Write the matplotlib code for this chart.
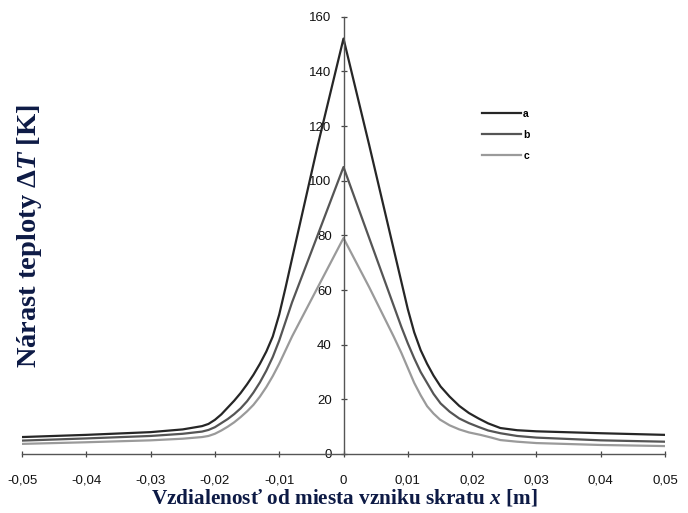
"""
Nárast teploty v okolí miesta vzniku skratu (krivky a, b, c).
"""

import matplotlib
matplotlib.use("Agg")
import matplotlib.pyplot as plt

# ---------------------------------------------------------------------------
# Data (odčítané z grafu)
# ---------------------------------------------------------------------------

x_a = [-0.05, -0.04, -0.03, -0.025, -0.022, -0.021, -0.020, -0.019, -0.018,
       -0.017, -0.016, -0.015, -0.014, -0.013, -0.012, -0.011, -0.010,
       -0.009, -0.008, -0.004, 0.0,
       0.004, 0.008, 0.009, 0.010, 0.011, 0.012, 0.013, 0.014, 0.0151,
       0.0165, 0.018, 0.0195, 0.021, 0.0225, 0.0244, 0.027, 0.03, 0.04, 0.05]
dt_a = [6.2, 7.0, 8.0, 9.0, 10.2, 11.0, 12.5, 14.5, 17.0,
        19.5, 22.3, 25.5, 29.0, 33.0, 37.5, 43.0, 51.0,
        61.0, 71.5, 113.0, 152.0,
        113.0, 73.0, 63.0, 53.0, 44.5, 38.0, 33.0, 28.7, 24.7,
        21.0, 17.6, 15.0, 13.0, 11.2, 9.5, 8.7, 8.3, 7.6, 7.0]

x_b = [-0.05, -0.04, -0.03, -0.025, -0.022, -0.021, -0.020, -0.019, -0.018,
       -0.017, -0.016, -0.015, -0.014, -0.013, -0.012, -0.011, -0.010,
       -0.009, -0.008, -0.005, 0.0,
       0.005, 0.007, 0.008, 0.009, 0.010, 0.011, 0.012, 0.013, 0.014,
       0.0151, 0.0165, 0.018, 0.0195, 0.021, 0.0225, 0.0244, 0.027, 0.03,
       0.04, 0.05]
dt_b = [4.9, 5.7, 6.6, 7.4, 8.2, 8.8, 9.8, 11.3, 12.8,
        14.6, 16.7, 19.3, 22.5, 26.2, 30.5, 35.5, 41.5,
        48.5, 55.5, 74.0, 105.0,
        72.5, 59.5, 53.0, 46.5, 40.5, 35.0, 30.0, 26.0, 22.0,
        18.5, 15.5, 13.0, 11.3, 9.9, 8.6, 7.6, 6.6, 6.0,
        5.0, 4.5]

x_c = [-0.05, -0.04, -0.03, -0.025, -0.022, -0.021, -0.020, -0.019, -0.018,
       -0.017, -0.016, -0.015, -0.014, -0.013, -0.012, -0.011, -0.010,
       -0.009, -0.008, -0.004, 0.0,
       0.004, 0.0078, 0.009, 0.010, 0.011, 0.012, 0.013, 0.014, 0.015,
       0.0165, 0.018, 0.0195, 0.0213, 0.023, 0.0244, 0.027, 0.03, 0.04, 0.05]
dt_c = [3.7, 4.3, 5.0, 5.6, 6.2, 6.6, 7.4, 8.6, 10.0,
        11.6, 13.5, 15.6, 18.0, 21.0, 24.5, 28.5, 33.0,
        38.0, 43.0, 61.0, 79.0,
        61.0, 43.0, 37.0, 31.5, 26.0, 21.5, 17.5, 14.8, 12.6,
        10.5, 9.0, 7.9, 7.0, 6.0, 5.1, 4.5, 4.0, 3.3, 2.9]

x_ticks = [-0.05, -0.04, -0.03, -0.02, -0.01, 0.0, 0.01, 0.02, 0.03, 0.04, 0.05]
x_ticklabels = ["-0,05", "-0,04", "-0,03", "-0,02", "-0,01", "0",
                "0,01", "0,02", "0,03", "0,04", "0,05"]
y_ticks = [0, 20, 40, 60, 80, 100, 120, 140, 160]

series = [("a", x_a, dt_a, "#262626"),
          ("b", x_b, dt_b, "#555555"),
          ("c", x_c, dt_c, "#9a9a9a")]

# ---------------------------------------------------------------------------
# Plot
# ---------------------------------------------------------------------------

plt.rcParams["mathtext.fontset"] = "custom"
plt.rcParams["mathtext.it"] = "Liberation Serif:italic:bold"
plt.rcParams["mathtext.rm"] = "Liberation Serif:bold"

fig = plt.figure(figsize=(6.88, 5.13), dpi=100)
ax = fig.add_axes([22 / 688, 1 - 454 / 513, 643 / 688, 437.3 / 513])

for name, xs, ys, col in series:
    ax.plot(xs, ys, color=col, lw=1.6, label=name)

ax.set_xlim(-0.05, 0.05)
ax.set_ylim(0, 160)

# osi cez nulu
ax.spines["left"].set_position(("data", 0))
ax.spines["bottom"].set_position(("data", 0))
ax.spines["top"].set_visible(False)
ax.spines["right"].set_visible(False)
for s in ("left", "bottom"):
    ax.spines[s].set_color("#555555")
    ax.spines[s].set_linewidth(1.0)

ax.set_xticks(x_ticks)
ax.set_xticklabels(x_ticklabels)
ax.set_yticks(y_ticks)
ax.tick_params(axis="both", direction="inout", length=5, width=0.9,
               color="#444444", labelsize=9.5, labelcolor="#111111")
ax.tick_params(axis="x", pad=12.5)
ax.tick_params(axis="y", pad=6)
for lab in ax.get_xticklabels() + ax.get_yticklabels():
    lab.set_fontfamily("Liberation Sans")

leg = ax.legend(loc="upper left", bbox_to_anchor=(482 / 688, 1 - 109 / 513),
                bbox_transform=fig.transFigure, frameon=False,
                handlelength=3.7, handletextpad=0.25, labelspacing=1.05,
                borderpad=0, borderaxespad=0,
                prop={"family": "Liberation Sans", "weight": "bold", "size": 7.5})

lab_color = "#0d1a45"
fig.text(344 / 688, 1 - 498 / 513,
         r"Vzdialenosť od miesta vzniku skratu $x$ [m]",
         ha="center", va="center", fontsize=15.3, color=lab_color,
         family="Liberation Serif", weight="bold")
fig.text(30 / 688, 1 - 236 / 513,
         r"Nárast teploty Δ$T$ [K]",
         ha="center", va="center", rotation=90, fontsize=20.5, color=lab_color,
         family="Liberation Serif", weight="bold")

fig.savefig("out.png", dpi=100)
